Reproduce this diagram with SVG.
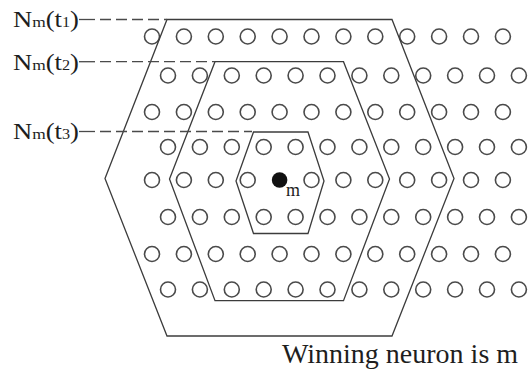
<svg xmlns="http://www.w3.org/2000/svg" xmlns:xlink="http://www.w3.org/1999/xlink" width="529" height="373" viewBox="0 0 529 373">
  <style>
    .neuron { fill: none; stroke: #4a4a4a; stroke-width: 1.6; }
    .hood { fill: none; stroke: #3c3c3c; stroke-width: 1.3; stroke-linejoin: miter; }
    .lead { stroke: #4a4a4a; stroke-width: 1.3; fill: none; }
    .dash { stroke-dasharray: 11 5; }
    .lbl { font-family: "Liberation Serif", "Times New Roman", serif; fill: #1e1e1e; }
  </style>
  <defs>
    <circle id="n" cx="0" cy="0" r="7.5" class="neuron"/>
  </defs>

  <rect width="529" height="373" fill="#ffffff"/>

  <!-- neuron lattice, rows alternate between two column offsets -->
  <g id="lattice">
    <g id="row1">
      <use href="#n" x="152" y="36.5"/><use href="#n" x="183.9" y="36.5"/><use href="#n" x="215.8" y="36.5"/><use href="#n" x="247.7" y="36.5"/><use href="#n" x="279.6" y="36.5"/><use href="#n" x="311.5" y="36.5"/><use href="#n" x="343.4" y="36.5"/><use href="#n" x="375.3" y="36.5"/><use href="#n" x="407.2" y="36.5"/><use href="#n" x="439.1" y="36.5"/><use href="#n" x="471" y="36.5"/><use href="#n" x="502.9" y="36.5"/>
    </g>
    <g id="row2">
      <use href="#n" x="168" y="75.5"/><use href="#n" x="199.9" y="75.5"/><use href="#n" x="231.8" y="75.5"/><use href="#n" x="263.7" y="75.5"/><use href="#n" x="295.6" y="75.5"/><use href="#n" x="327.5" y="75.5"/><use href="#n" x="359.4" y="75.5"/><use href="#n" x="391.3" y="75.5"/><use href="#n" x="423.2" y="75.5"/><use href="#n" x="455.1" y="75.5"/><use href="#n" x="487" y="75.5"/><use href="#n" x="518.9" y="75.5"/>
    </g>
    <g id="row3">
      <use href="#n" x="152" y="112"/><use href="#n" x="183.9" y="112"/><use href="#n" x="215.8" y="112"/><use href="#n" x="247.7" y="112"/><use href="#n" x="279.6" y="112"/><use href="#n" x="311.5" y="112"/><use href="#n" x="343.4" y="112"/><use href="#n" x="375.3" y="112"/><use href="#n" x="407.2" y="112"/><use href="#n" x="439.1" y="112"/><use href="#n" x="471" y="112"/><use href="#n" x="502.9" y="112"/>
    </g>
    <g id="row4">
      <use href="#n" x="168" y="147"/><use href="#n" x="199.9" y="147"/><use href="#n" x="231.8" y="147"/><use href="#n" x="263.7" y="147"/><use href="#n" x="295.6" y="147"/><use href="#n" x="327.5" y="147"/><use href="#n" x="359.4" y="147"/><use href="#n" x="391.3" y="147"/><use href="#n" x="423.2" y="147"/><use href="#n" x="455.1" y="147"/><use href="#n" x="487" y="147"/><use href="#n" x="518.9" y="147"/>
    </g>
    <g id="row5">
      <use href="#n" x="152" y="180"/><use href="#n" x="183.9" y="180"/><use href="#n" x="215.8" y="180"/><use href="#n" x="247.7" y="180"/><use href="#n" x="311.5" y="180"/><use href="#n" x="343.4" y="180"/><use href="#n" x="375.3" y="180"/><use href="#n" x="407.2" y="180"/><use href="#n" x="439.1" y="180"/><use href="#n" x="471" y="180"/><use href="#n" x="502.9" y="180"/>
    </g>
    <g id="row6">
      <use href="#n" x="168" y="217"/><use href="#n" x="199.9" y="217"/><use href="#n" x="231.8" y="217"/><use href="#n" x="263.7" y="217"/><use href="#n" x="295.6" y="217"/><use href="#n" x="327.5" y="217"/><use href="#n" x="359.4" y="217"/><use href="#n" x="391.3" y="217"/><use href="#n" x="423.2" y="217"/><use href="#n" x="455.1" y="217"/><use href="#n" x="487" y="217"/><use href="#n" x="518.9" y="217"/>
    </g>
    <g id="row7">
      <use href="#n" x="152" y="254"/><use href="#n" x="183.9" y="254"/><use href="#n" x="215.8" y="254"/><use href="#n" x="247.7" y="254"/><use href="#n" x="279.6" y="254"/><use href="#n" x="311.5" y="254"/><use href="#n" x="343.4" y="254"/><use href="#n" x="375.3" y="254"/><use href="#n" x="407.2" y="254"/><use href="#n" x="439.1" y="254"/><use href="#n" x="471" y="254"/><use href="#n" x="502.9" y="254"/>
    </g>
    <g id="row8">
      <use href="#n" x="168" y="289.5"/><use href="#n" x="199.9" y="289.5"/><use href="#n" x="231.8" y="289.5"/><use href="#n" x="263.7" y="289.5"/><use href="#n" x="295.6" y="289.5"/><use href="#n" x="327.5" y="289.5"/><use href="#n" x="359.4" y="289.5"/><use href="#n" x="391.3" y="289.5"/><use href="#n" x="423.2" y="289.5"/><use href="#n" x="455.1" y="289.5"/><use href="#n" x="487" y="289.5"/><use href="#n" x="518.9" y="289.5"/>
    </g>
  </g>

  <!-- winning neuron -->
  <g id="winner">
    <circle cx="279.6" cy="180" r="7.8" fill="#111111"/>
    <text class="lbl" x="286" y="196" font-size="18">m</text>
  </g>

  <!-- shrinking neighbourhoods -->
  <g id="hood-t1">
    <polygon class="hood" points="167,19.5 392,19.5 454,178.5 392,336 167,336 105,178.5"/>
  </g>
  <g id="hood-t2">
    <polygon class="hood" points="215,61.7 343.5,61.7 389.5,179 343.5,300.7 215,300.7 169.5,179"/>
  </g>
  <g id="hood-t3">
    <polygon class="hood" points="253.5,132 308,132 324,181 308,233.5 253.5,233.5 236,181"/>
  </g>

  <!-- neighbourhood labels -->
  <g id="label-t1">
    <text class="lbl" x="13" y="27" font-size="23" textLength="66" lengthAdjust="spacingAndGlyphs">N<tspan font-size="15">m</tspan>(t<tspan font-size="14">1</tspan>)</text>
  </g>
  <g id="label-t2">
    <text class="lbl" x="13" y="69.5" font-size="23" textLength="66" lengthAdjust="spacingAndGlyphs">N<tspan font-size="15">m</tspan>(t<tspan font-size="14">2</tspan>)</text>
  </g>
  <g id="label-t3">
    <text class="lbl" x="13" y="139" font-size="23" textLength="66" lengthAdjust="spacingAndGlyphs">N<tspan font-size="15">m</tspan>(t<tspan font-size="14">3</tspan>)</text>
  </g>

  <!-- leader lines from labels to neighbourhood tops -->
  <g id="connectors">
    <line class="lead" x1="79" y1="19.5" x2="95" y2="19.5"/>
    <line class="lead dash" x1="100" y1="19.5" x2="167" y2="19.5"/>
    <line class="lead" x1="79" y1="61.7" x2="95" y2="61.7"/>
    <line class="lead dash" x1="100" y1="61.7" x2="215" y2="61.7"/>
    <line class="lead" x1="79" y1="131.5" x2="95" y2="131.5"/>
    <line class="lead dash" x1="100" y1="131.5" x2="252" y2="131.5"/>
  </g>

  <text class="lbl" x="282" y="363" font-size="28">Winning neuron is m</text>
</svg>
